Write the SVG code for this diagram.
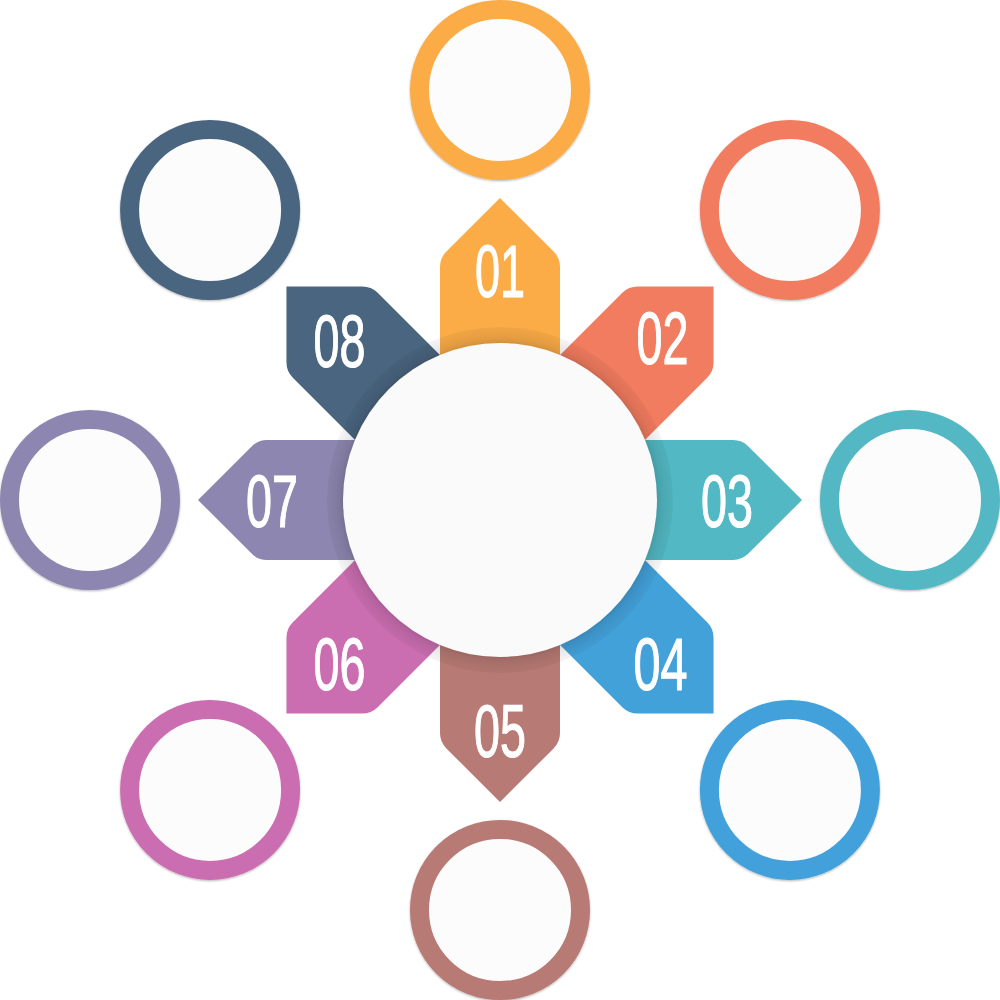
<svg xmlns="http://www.w3.org/2000/svg" xmlns:xlink="http://www.w3.org/1999/xlink" width="1000" height="1000" viewBox="0 0 1000 1000">
<defs>
<path id="arrow" d="M -60 -140 L -60 -233 Q -60 -242 -53.6 -248.4 L 0 -302 L 53.6 -248.4 Q 60 -242 60 -233 L 60 -140 Z"/>
<filter id="ringShadow" x="-20%" y="-20%" width="140%" height="140%">
<feDropShadow dx="0" dy="1" stdDeviation="1.2" flood-color="#000" flood-opacity="0.3"/>
</filter>
<filter id="hubShadow" x="-20%" y="-20%" width="140%" height="140%">
<feDropShadow dx="0" dy="0" stdDeviation="2" flood-color="#000" flood-opacity="0.08"/>
</filter>
<radialGradient id="band" cx="500" cy="500" r="173" gradientUnits="userSpaceOnUse">
<stop offset="0.9" stop-color="#000" stop-opacity="0.14"/>
<stop offset="0.95" stop-color="#000" stop-opacity="0.08"/>
<stop offset="1" stop-color="#000" stop-opacity="0.04"/>
</radialGradient>
</defs>
<style>
.ring{fill:#fcfcfc;stroke-width:19;filter:url(#ringShadow)}
.num{font-family:"Liberation Sans Narrow","Liberation Sans",Arial,sans-serif;font-size:75px;fill:#ffffff;stroke:#ffffff;stroke-width:1.2;text-anchor:middle}
</style>
<rect width="1000" height="1000" fill="#ffffff"/>

<g id="arrows">
<use xlink:href="#arrow" href="#arrow" transform="translate(500 500)" fill="#FBAC47"/>
<use xlink:href="#arrow" href="#arrow" transform="translate(500 500) rotate(45)" fill="#F27C5F"/>
<use xlink:href="#arrow" href="#arrow" transform="translate(500 500) rotate(90)" fill="#52B8C3"/>
<use xlink:href="#arrow" href="#arrow" transform="translate(500 500) rotate(135)" fill="#43A1DA"/>
<use xlink:href="#arrow" href="#arrow" transform="translate(500 500) rotate(180)" fill="#B87A74"/>
<use xlink:href="#arrow" href="#arrow" transform="translate(500 500) rotate(225)" fill="#CB6EB1"/>
<use xlink:href="#arrow" href="#arrow" transform="translate(500 500) rotate(270)" fill="#8D86B0"/>
<use xlink:href="#arrow" href="#arrow" transform="translate(500 500) rotate(315)" fill="#4A6580"/>
</g>

<g id="hub">
<circle cx="500" cy="500" r="173" fill="url(#band)"/>
<circle cx="500" cy="500" r="157" fill="#fafafa" filter="url(#hubShadow)"/>
</g>

<g id="step01">
<text class="num" x="500" y="297" textLength="50" lengthAdjust="spacingAndGlyphs">01</text>
<circle class="ring" cx="500" cy="90" r="80.5" stroke="#FBAC47"/>
</g>
<g id="step02">
<text class="num" x="662.6" y="364.4" textLength="52" lengthAdjust="spacingAndGlyphs">02</text>
<circle class="ring" cx="789.9" cy="210.1" r="80.5" stroke="#F27C5F"/>
</g>
<g id="step03">
<text class="num" x="727" y="527" textLength="52" lengthAdjust="spacingAndGlyphs">03</text>
<circle class="ring" cx="910" cy="500" r="80.5" stroke="#52B8C3"/>
</g>
<g id="step04">
<text class="num" x="660.6" y="689.6" textLength="54" lengthAdjust="spacingAndGlyphs">04</text>
<circle class="ring" cx="789.9" cy="789.9" r="80.5" stroke="#43A1DA"/>
</g>
<g id="step05">
<text class="num" x="500" y="757" textLength="52" lengthAdjust="spacingAndGlyphs">05</text>
<circle class="ring" cx="500" cy="910" r="80.5" stroke="#B87A74"/>
</g>
<g id="step06">
<text class="num" x="339.4" y="689.6" textLength="52" lengthAdjust="spacingAndGlyphs">06</text>
<circle class="ring" cx="210.1" cy="789.9" r="80.5" stroke="#CB6EB1"/>
</g>
<g id="step07">
<text class="num" x="272" y="527" textLength="52" lengthAdjust="spacingAndGlyphs">07</text>
<circle class="ring" cx="90" cy="500" r="80.5" stroke="#8D86B0"/>
</g>
<g id="step08">
<text class="num" x="339.4" y="367.4" textLength="52" lengthAdjust="spacingAndGlyphs">08</text>
<circle class="ring" cx="210.1" cy="210.1" r="80.5" stroke="#4A6580"/>
</g>
</svg>
